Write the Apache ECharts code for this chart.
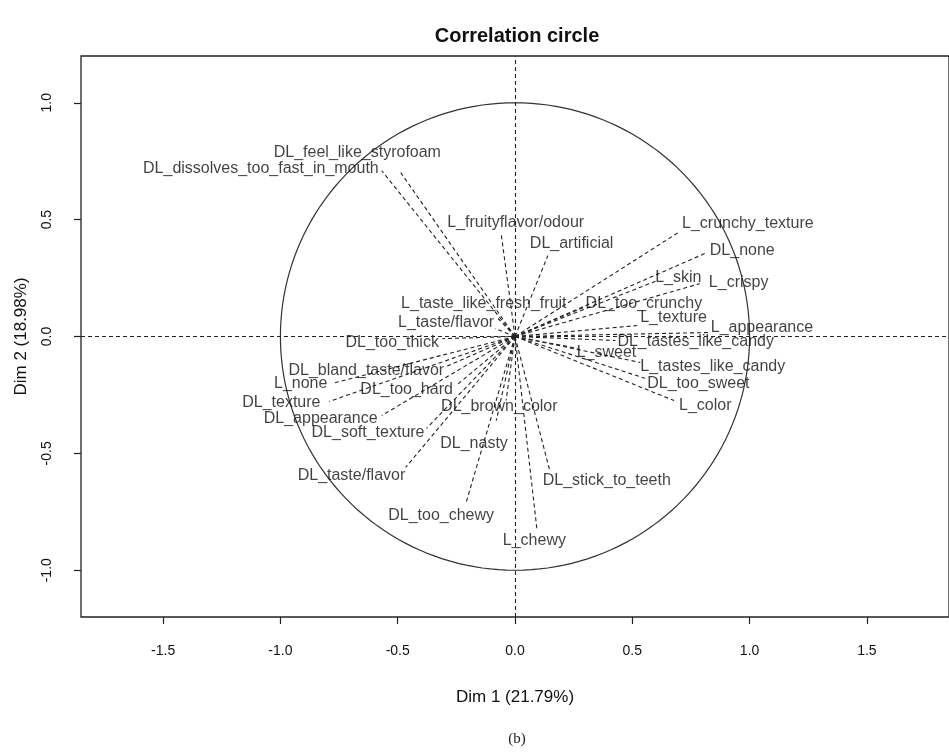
<!DOCTYPE html>
<html>
<head>
<meta charset="utf-8">
<script src="https://cdn.jsdelivr.net/npm/echarts@6/dist/echarts.min.js"></script>
<style>
  html, body { margin: 0; padding: 0; background: #fff; }
  #chart { width: 949px; height: 754px; }
</style>
</head>
<body>
<div id="chart"></div>
<script>
// Variable coordinates on the first two PCA dimensions
const variables = [
  'DL_dissolves_too_fast_in_mouth', 'DL_feel_like_styrofoam', 'L_fruityflavor/odour', 'DL_artificial',
  'L_crunchy_texture', 'DL_none', 'L_skin', 'L_crispy', 'DL_too_crunchy', 'L_texture', 'L_appearance',
  'DL_tastes_like_candy', 'L_sweet', 'L_tastes_like_candy', 'DL_too_sweet', 'L_color',
  'L_taste_like_fresh_fruit', 'L_taste/flavor', 'DL_too_thick', 'DL_bland_taste/flavor', 'L_none',
  'DL_too_hard', 'DL_texture', 'DL_appearance', 'DL_soft_texture', 'DL_taste/flavor', 'DL_brown_color',
  'DL_nasty', 'DL_too_chewy', 'DL_stick_to_teeth', 'L_chewy'
];
const dim1 = [
  -0.568, -0.487, -0.059, 0.140,
  0.695, 0.809, 0.606, 0.788, 0.301, 0.521, 0.826,
  0.428, 0.267, 0.534, 0.555, 0.678,
  -0.072, -0.085, -0.309, -0.292, -0.780,
  -0.250, -0.792, -0.568, -0.377, -0.466, -0.038,
  -0.080, -0.208, 0.148, 0.093
];
const dim2 = [
  0.709, 0.701, 0.440, 0.346,
  0.444, 0.355, 0.239, 0.226, 0.128, 0.047, 0.017,
  -0.017, -0.051, -0.111, -0.179, -0.274,
  0.077, 0.034, -0.009, -0.128, -0.201,
  -0.209, -0.278, -0.338, -0.393, -0.560, -0.274,
  -0.360, -0.709, -0.573, -0.821
];
const xTicks = [-1.5, -1.0, -0.5, 0.0, 0.5, 1.0, 1.5];
const yTicks = [-1.0, -0.5, 0.0, 0.5, 1.0];

// Label placement: pixel shift of each label's anchor from its arrow tip, and text alignment
const labelShift = [
  [-3, -2, 'right'], [-127, -20, 'left'], [-54, -11, 'left'], [-18, -12, 'left'],
  [4, -9, 'left'], [5, -3, 'left'], [-2, -3, 'left'], [9, -1, 'left'], [0, -3, 'left'], [3, -8, 'left'], [2, -5, 'left'],
  [2, 1, 'left'], [-1, 4, 'left'], [0, 4, 'left'], [2, 5, 'left'], [5, 5, 'left'],
  [-97, -15, 'left'], [-97, -6, 'left'], [-97, 4, 'left'], [-158, 4, 'left'], [-58, 0, 'left'],
  [-96, 4, 'left'], [-87, 1, 'left'], [-118, 3, 'left'], [-115, 4, 'left'], [-108, 8, 'left'], [-65, 6, 'left'],
  [-56, 23, 'left'], [-78, 13, 'left'], [-7, 10, 'left'], [-34, 12, 'left']
];

const FONT = '"Liberation Sans", Arial, Helvetica, sans-serif';
const INK = '#111';

const chart = echarts.init(document.getElementById('chart'), null, { renderer: 'canvas' });

const arrowData = variables.map((name, i) => ({ name, coords: [[0, 0], [dim1[i], dim2[i]]] }));
const labelData = variables.map((name, i) => ({
  name,
  value: [dim1[i], dim2[i]],
  label: {
    offset: [labelShift[i][0], labelShift[i][1]],
    align: labelShift[i][2]
  }
}));

const option = {
  animation: false,
  backgroundColor: '#fff',
  grid: {
    left: 81, top: 56, width: 872, height: 561,
    show: true, borderColor: '#222', borderWidth: 1.3, backgroundColor: 'transparent'
  },
  xAxis: {
    type: 'value', min: -1.85, max: 1.85,
    name: 'Dim 1 (21.79%)', nameLocation: 'middle', nameGap: 72,
    nameTextStyle: { fontFamily: FONT, fontSize: 17, color: INK },
    axisLine: { show: false, onZero: false },
    splitLine: { show: false },
    axisTick: { show: true, inside: false, length: 7, customValues: xTicks, lineStyle: { color: '#222', width: 1.2 } },
    axisLabel: {
      customValues: xTicks, margin: 27, fontFamily: FONT, fontSize: 14, color: INK,
      formatter: v => v.toFixed(1)
    }
  },
  yAxis: {
    type: 'value', min: -1.2, max: 1.2,
    name: 'Dim 2 (18.98%)', nameLocation: 'middle', nameGap: 51, nameRotate: 90,
    nameTextStyle: { fontFamily: FONT, fontSize: 17, color: INK },
    axisLine: { show: false, onZero: false },
    splitLine: { show: false },
    axisTick: { show: true, inside: false, length: 7, customValues: yTicks, lineStyle: { color: '#222', width: 1.2 } },
    axisLabel: {
      customValues: yTicks, margin: 27, rotate: 90, fontFamily: FONT, fontSize: 14, color: INK,
      formatter: v => v.toFixed(1)
    }
  },
  graphic: [
    { type: 'text', x: 517, y: 36, style: { text: 'Correlation circle', align: 'center', verticalAlign: 'middle', font: 'bold 20px ' + FONT, fill: '#111' } },
    { type: 'text', x: 517, y: 739, style: { text: '(b)', align: 'center', verticalAlign: 'middle', font: '15px "Liberation Serif", "DejaVu Serif", serif', fill: '#222' } }
  ],
  series: [
    {
      // unit correlation circle
      type: 'custom',
      data: [[0, 0]],
      encode: { x: 0, y: 1 },
      silent: true,
      renderItem: (params, api) => {
        const pts = [];
        for (let a = 0; a <= 360; a += 2) {
          const r = a * Math.PI / 180;
          pts.push(api.coord([Math.cos(r), Math.sin(r)]));
        }
        return { type: 'polyline', shape: { points: pts }, style: { stroke: '#333', lineWidth: 1.2, fill: null } };
      }
    },
    {
      // variable vectors from the origin
      type: 'lines',
      coordinateSystem: 'cartesian2d',
      data: arrowData,
      silent: true,
      lineStyle: { color: '#222', width: 1.1, type: [4, 3], opacity: 1 },
      symbol: ['none', 'none']
    },
    {
      // variable names at the vector tips, plus the dashed zero lines
      type: 'scatter',
      data: labelData,
      symbolSize: 0,
      silent: true,
      label: {
        show: true,
        position: [0, 0],
        verticalAlign: 'middle',
        formatter: p => p.name,
        fontFamily: FONT,
        fontSize: 16,
        color: INK
      },
      markLine: {
        silent: true,
        symbol: ['none', 'none'],
        label: { show: false },
        lineStyle: { color: '#222', width: 1.1, type: [4, 3] },
        data: [{ xAxis: 0 }, { yAxis: 0 }]
      }
    }
  ]
};

chart.setOption(option);
</script>
</body>
</html>
